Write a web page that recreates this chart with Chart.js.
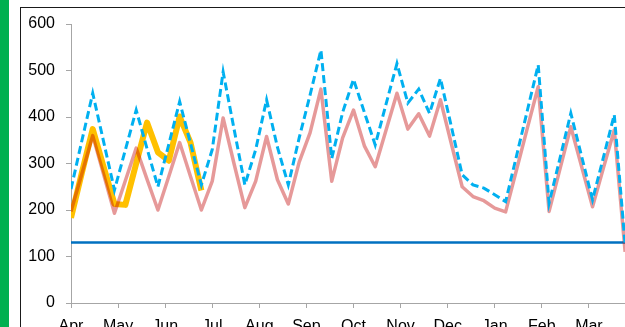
<!DOCTYPE html>
<html>
<head>
<meta charset="utf-8">
<script src="https://cdn.jsdelivr.net/npm/chart.js@4/dist/chart.umd.min.js"></script>
<style>
  html, body { margin:0; padding:0; background:#fff; }
  body { width:625px; height:327px; overflow:hidden; position:relative; }
  #green { position:absolute; left:0; top:0; width:9px; height:327px; background:#00b050; }
  #frame { position:absolute; left:20px; top:7px; width:700px; height:400px; border:1px solid #1a1a1a; }
  #wrap { position:absolute; left:0; top:0; width:660px; height:340px; }
</style>
</head>
<body>
<div id="green"></div>
<div id="frame"></div>
<div id="wrap"><canvas id="c" width="660" height="340"></canvas></div>
<script>
const months = ['Apr','May','Jun','Jul','Aug','Sep','Oct','Nov','Dec','Jan','Feb','Mar'];
const yTicks = [0,100,200,300,400,500,600];

// weekly values (week 0 = first week of April)
const prevYear = [245,349,451,347,243,329,415,332,250,341,433,343,254,330,497,375,254,330,437,335,
                  254,355,447,544,311,410,481,410,340,428,515,430,460,408,483,380,276,254,247,233,
                  218,316,414,512,215,311,408,315,222,313,405,125];
const average  = [197,278,360,277,193,263,333,266,200,272,345,272,200,262,398,300,205,262,358,265,
                  213,303,366,460,262,355,415,338,293,372,451,374,407,359,437,343,250,229,220,204,
                  196,286,376,465,197,288,379,293,207,290,372,110];
const thisYear = [183,280,374,293,213,211,300,388,324,306,401,345,242];
const target   = 130;

const toPts = arr => arr.map((v, i) => ({ x: i, y: v }));
const font = { family: '"Liberation Sans", Arial, sans-serif', size: 16 };
const axisGray = '#a6a6a6';

new Chart(document.getElementById('c'), {
  type: 'line',
  data: {
    datasets: [
      { label: 'Previous year', data: toPts(prevYear), borderColor: '#00b0f0', borderWidth: 3,
        borderDash: [8, 4], pointRadius: 0, tension: 0, fill: false, xAxisID: 'x', yAxisID: 'y' },
      { label: 'Average', data: toPts(average), borderColor: 'rgba(192,0,0,0.4)', borderWidth: 3.5,
        pointRadius: 0, tension: 0, fill: false, borderJoinStyle: 'round', xAxisID: 'x', yAxisID: 'y' },
      { label: 'This year', data: toPts(thisYear), borderColor: '#ffc000', borderWidth: 6,
        pointRadius: 0, tension: 0, fill: false, borderJoinStyle: 'round', xAxisID: 'x', yAxisID: 'y' },
      { label: 'Target', data: toPts(average.map(() => target)), borderColor: '#0070c0', borderWidth: 2.5,
        pointRadius: 0, tension: 0, fill: false, xAxisID: 'x', yAxisID: 'y' }
    ]
  },
  options: {
    responsive: false,
    animation: false,
    devicePixelRatio: 1,
    layout: { padding: { top: 24, right: 24, left: 0, bottom: 0 } },
    plugins: { legend: { display: false }, tooltip: { enabled: false } },
    scales: {
      x: { type: 'linear', min: 0, max: 52, display: false },
      m: {
        type: 'linear', min: 0, max: months.length, position: 'bottom',
        afterBuildTicks(s) { s.ticks = months.map((_, i) => ({ value: i })); },
        grid: { drawOnChartArea: false, drawTicks: true, tickLength: 5, color: axisGray },
        border: { display: true, color: axisGray, width: 1 },
        ticks: { autoSkip: false, maxRotation: 0, minRotation: 0, padding: 9, color: '#000', font: font,
                 callback: (v) => months[v] },
        afterFit(s) { s.height = 37; }
      },
      y: {
        type: 'linear', min: 0, max: 600,
        afterBuildTicks(s) { s.ticks = yTicks.map(v => ({ value: v })); },
        grid: { drawOnChartArea: false, drawTicks: true, tickLength: 5, color: axisGray },
        border: { display: true, color: axisGray, width: 1 },
        ticks: { padding: 11, color: '#000', font: font },
        afterFit(s) { s.width = 71; }
      }
    }
  }
});
</script>
</body>
</html>
